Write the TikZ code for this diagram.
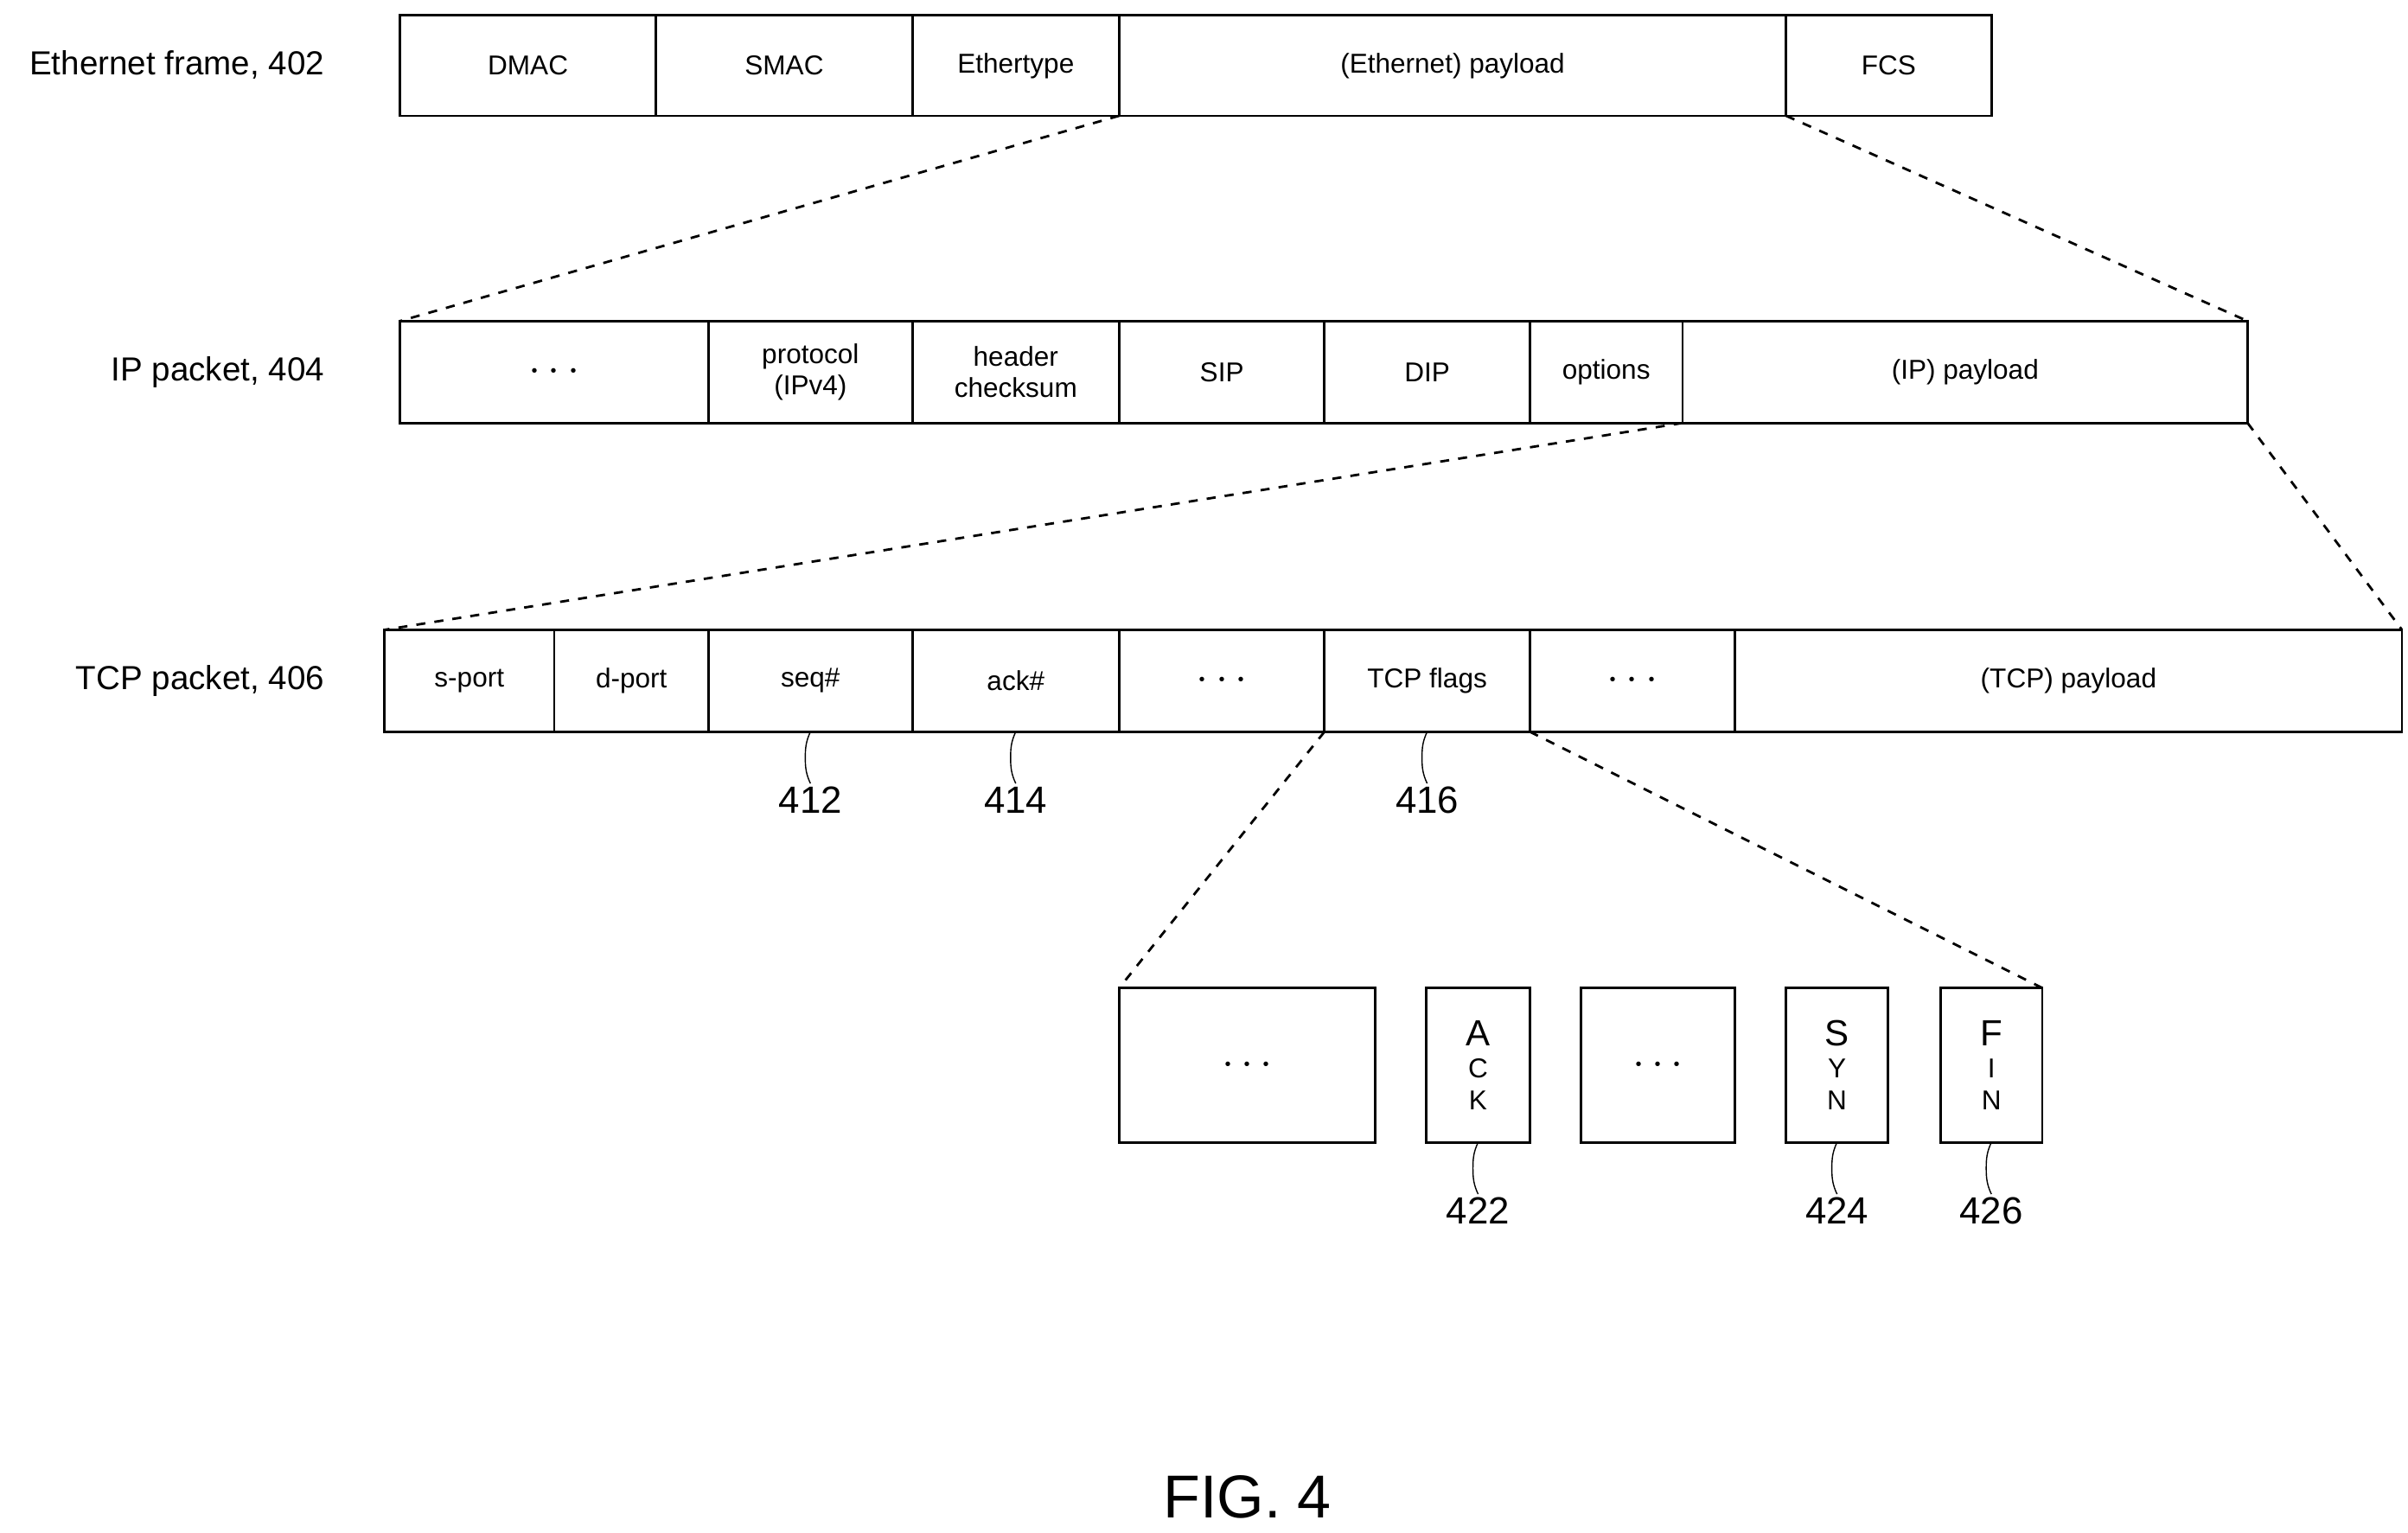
\documentclass[tikz,border=0pt]{standalone}
\usepackage{fontspec}
\setmainfont{Liberation Sans}
\usetikzlibrary{positioning}

% one field of a packet row: name, x1, x2, y1, y2, text
\newcommand{\pktcell}[6]{%
  \node (#1) [cell, minimum width={(#3-#2)*0.0179cm}, minimum height={(#5-#4)*0.0179cm}]
    at ({(#2+#3)/2*0.0179}, {-(#4+#5)/2*0.0179}) {#6};}

\tikzset{
  cell/.style={rectangle, draw, thick, inner sep=0pt, outer sep=0pt, align=center, font=\fontsize{9}{10.5}\selectfont},
  rowlabel/.style={anchor=east, font=\fontsize{11}{13}\selectfont},
  refnum/.style={anchor=north, inner sep=1pt, font=\fontsize{12.5}{14}\selectfont},
  zoomline/.style={dashed, thick},
  squiggle/.style={thin}
}

\begin{document}
\begin{tikzpicture}
    \useasboundingbox (0,0) rectangle (27.92,-17.77);

    % Ethernet frame
    \node (eth_label) [rowlabel] at (217*0.0179, -42*0.0179) {Ethernet frame, 402};
    \pktcell{eth_dmac}{259}{425}{10}{75}{DMAC}
    \pktcell{eth_smac}{425}{591}{10}{75}{SMAC}
    \pktcell{eth_type}{591}{725}{10}{75}{Ethertype}
    \pktcell{eth_payload}{725}{1157}{10}{75}{(Ethernet) payload}
    \pktcell{eth_fcs}{1157}{1290}{10}{75}{FCS}

    % IP packet
    \node (ip_label) [rowlabel] at (217*0.0179, -241*0.0179) {IP packet, 404};
    \pktcell{ip_dots}{259}{459}{208}{274}{\Large$\cdots$}
    \pktcell{ip_protocol}{459}{591}{208}{274}{protocol\\(IPv4)}
    \pktcell{ip_checksum}{591}{725}{208}{274}{header\\checksum}
    \pktcell{ip_sip}{725}{858}{208}{274}{SIP}
    \pktcell{ip_dip}{858}{991}{208}{274}{DIP}
    \pktcell{ip_options}{991}{1090}{208}{274}{options}
    \pktcell{ip_payload}{1090}{1456}{208}{274}{(IP) payload}

    % TCP packet
    \node (tcp_label) [rowlabel] at (217*0.0179, -441*0.0179) {TCP packet, 406};
    \pktcell{tcp_sport}{249}{359}{408}{474}{s-port}
    \pktcell{tcp_dport}{359}{459}{408}{474}{d-port}
    \pktcell{tcp_seq}{459}{591}{408}{474}{seq\#}
    \pktcell{tcp_ack}{591}{725}{408}{474}{ack\#}
    \pktcell{tcp_dots_a}{725}{858}{408}{474}{\Large$\cdots$}
    \pktcell{tcp_flags}{858}{991}{408}{474}{TCP flags}
    \pktcell{tcp_dots_b}{991}{1124}{408}{474}{\Large$\cdots$}
    \pktcell{tcp_payload}{1124}{1556}{408}{474}{(TCP) payload}

    % TCP flag bits
    \pktcell{flag_dots_a}{725}{891}{640}{740}{\Large$\cdots$}
    \pktcell{flag_ack}{924}{991}{640}{740}{\fontsize{12}{12.5}\selectfont A\\C\\K}
    \pktcell{flag_dots_b}{1024}{1124}{640}{740}{\Large$\cdots$}
    \pktcell{flag_syn}{1157}{1223}{640}{740}{\fontsize{12}{12.5}\selectfont S\\Y\\N}
    \pktcell{flag_fin}{1257}{1323}{640}{740}{\fontsize{12}{12.5}\selectfont F\\I\\N}

    % expansions
    \draw[zoomline] (eth_payload.south west) -- (ip_dots.north west);
    \draw[zoomline] (eth_payload.south east) -- (ip_payload.north east);
    \draw[zoomline] (ip_payload.south west) -- (tcp_sport.north west);
    \draw[zoomline] (ip_payload.south east) -- (tcp_payload.north east);
    \draw[zoomline] (tcp_flags.south west) -- (flag_dots_a.north west);
    \draw[zoomline] (tcp_flags.south east) -- (flag_fin.north east);

    % reference numbers
    \foreach \field/\num in {tcp_seq/412, tcp_ack/414, tcp_flags/416, flag_ack/422, flag_syn/424, flag_fin/426} {
        \draw[squiggle] (\field.south) to[out=-115, in=90] ++(-0.06,-0.3)
            to[out=-90, in=115] ++(0.06,-0.3) coordinate (\field_end);
        \node (\field_num) [refnum] at (\field_end) {\num};
    }

    \node (fig_caption) [font=\fontsize{20}{24}\selectfont] at (808*0.0179, -970*0.0179) {FIG. 4};
\end{tikzpicture}
\end{document}
